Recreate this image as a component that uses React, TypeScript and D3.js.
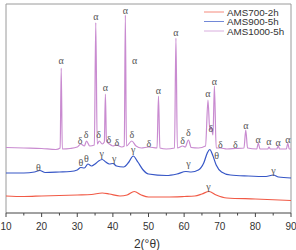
import React, { useEffect, useRef } from 'react';
import * as d3 from 'd3';

const W = 296;
const H = 250;

// x = 2θ (degrees), y = intensity (a.u.)
const red700: [number, number][] = [
  [10, 17], [15, 16.5], [20, 17], [25, 17.5], [30, 18], [34, 18.5], [37, 20], [39, 19],
  [42, 17], [44, 18], [46, 21.5], [48, 18], [50, 16], [55, 16], [60, 16.5], [63, 17],
  [65, 19], [67, 21.5], [69, 18], [72, 15], [80, 14], [90, 12.5],
];

const blue900: [number, number][] = [
  [10, 40], [15, 40], [18, 41], [19.5, 42.5], [21, 40.5], [25, 41], [28, 41.5], [30, 43],
  [31, 45.5], [32, 45], [33, 49], [34, 47], [35, 49], [36, 52], [37, 53.5], [38, 51],
  [39, 49], [40, 49.5], [41, 47], [43, 46], [44.5, 51], [45.7, 57], [47, 51], [48.5, 43],
  [50, 39], [55, 37.5], [58, 39], [60.5, 41.5], [62, 41], [64, 43], [65.5, 50], [66.5, 60],
  [67.2, 63.5], [68, 58], [69, 48], [70.5, 41], [73, 38], [78, 37], [83, 36.5], [85, 38],
  [86.5, 36], [90, 35],
];

const pink1000: [number, number][] = [
  [10, 65.5], [15, 65], [20, 64.5], [24, 63.5], [25.2, 65], [25.5, 145], [25.8, 64],
  [28, 64.5], [30, 66], [31, 69], [32, 67], [32.6, 72], [33.5, 67], [34.8, 68], [35.2, 190.5],
  [35.6, 69], [36.2, 72], [37, 69], [37.6, 71], [37.9, 119], [38.2, 72], [39, 69], [40, 67],
  [41, 68], [42.5, 66], [43.2, 67], [43.5, 198], [43.8, 67], [45.3, 72], [46.5, 67], [48, 65],
  [50, 66], [52.4, 65], [52.8, 117], [53.2, 65], [55, 64], [57.3, 65], [57.7, 175], [58.1, 65],
  [59.6, 67], [60.3, 66], [61.2, 73], [62, 65.5], [64, 65], [66, 67], [66.7, 113], [67.2, 83],
  [67.6, 86], [68.1, 78], [68.5, 127], [69, 65], [70.2, 65], [72, 64], [74.4, 64.5], [76.8, 65],
  [77.3, 83], [77.8, 65], [80.4, 64], [80.8, 70], [81.3, 64], [83.5, 64], [83.8, 66], [84.2, 64],
  [86, 64], [86.4, 67], [86.8, 64], [88.7, 64], [89.1, 70], [89.5, 64], [90, 64],
];

const seriesNames = ['AMS700-2h', 'AMS900-5h', 'AMS1000-5h'];
const seriesColors = ['#f15a46', '#3656c6', '#c98bd0'];

// phase labels: [2θ, intensity, glyph]
const phaseLabels: [number, number, string][] = [
  [25.5, 153, 'α'], [35.2, 197, 'α'], [37.9, 126, 'α'], [43.5, 203, 'α'], [46.1, 153, 'α'],
  [52.8, 123, 'α'], [57.7, 181, 'α'], [66.7, 120, 'α'], [68.5, 132, 'α'], [77.3, 88, 'α'],
  [80.8, 74, 'α'], [83.8, 72, 'α'], [86.4, 71, 'α'], [89.1, 74, 'α'],
  [30.8, 73, 'δ'], [32.5, 79, 'δ'], [36, 79, 'δ'], [38.9, 74, 'δ'], [41.1, 71, 'δ'],
  [45.3, 79, 'δ'], [50.1, 70, 'δ'], [59.6, 73, 'δ'], [61.2, 81, 'δ'], [67.5, 85, 'δ'],
  [70.2, 69, 'δ'], [74.4, 69, 'δ'],
  [19.1, 46, 'θ'], [31, 51, 'θ'], [32.6, 55, 'θ'], [69.1, 58, 'θ'],
  [36.9, 60, 'γ'], [40.4, 55, 'γ'], [45.7, 64, 'γ'], [61.2, 50, 'γ'], [85.1, 43, 'γ'],
  [66.8, 27, 'γ'],
];

const majorTicks = [10, 20, 30, 40, 50, 60, 70, 80, 90];
const minorTicks = [15, 25, 35, 45, 55, 65, 75, 85];

export default function App() {
  const ref = useRef<SVGSVGElement>(null);

  useEffect(() => {
    document.body.style.margin = '0';
    if (!ref.current) return;
    const svg = d3.select(ref.current);
    svg.selectAll('*').remove();

    const left = 6;
    const right = 291;
    const top = 4;
    const bottom = 213;

    const x = d3.scaleLinear().domain([10, 90]).range([left, right]);
    const y = d3.scaleLinear().domain([0, 209]).range([bottom, top]);

    // frame
    svg.append('path')
      .attr('d', `M${left},${bottom}V${top}H${right}V${bottom}`)
      .attr('fill', 'none')
      .attr('stroke', '#9a9a9a')
      .attr('stroke-width', 1);

    const line = d3.line<[number, number]>()
      .x((d) => x(d[0]))
      .y((d) => y(d[1]))
      .curve(d3.curveMonotoneX);

    [red700, blue900, pink1000].forEach((s, i) => {
      svg.append('path')
        .attr('d', line(s) ?? '')
        .attr('fill', 'none')
        .attr('stroke', seriesColors[i])
        .attr('stroke-width', 1.2)
        .attr('stroke-linejoin', 'round');
    });

    // phase labels
    phaseLabels.forEach(([tt, v, g]) => {
      svg.append('text')
        .attr('x', x(tt))
        .attr('y', y(v))
        .attr('text-anchor', 'middle')
        .attr('dominant-baseline', 'central')
        .attr('fill', '#555')
        .attr('font-size', '10px')
        .attr('font-family', 'Liberation Serif, serif')
        .text(g);
    });

    // bottom axis
    svg.append('line')
      .attr('x1', left).attr('x2', right)
      .attr('y1', bottom).attr('y2', bottom)
      .attr('stroke', '#444').attr('stroke-width', 1);
    majorTicks.forEach((t) => {
      svg.append('line')
        .attr('x1', x(t)).attr('x2', x(t))
        .attr('y1', bottom).attr('y2', bottom + 4)
        .attr('stroke', '#444');
      svg.append('text')
        .attr('x', x(t))
        .attr('y', bottom + 17)
        .attr('text-anchor', 'middle')
        .attr('fill', '#333')
        .attr('font-size', '10px')
        .attr('font-family', 'Liberation Sans, Arial, sans-serif')
        .text(t);
    });
    minorTicks.forEach((t) => {
      svg.append('line')
        .attr('x1', x(t)).attr('x2', x(t))
        .attr('y1', bottom).attr('y2', bottom + 2.5)
        .attr('stroke', '#444');
    });

    svg.append('text')
      .attr('x', 147)
      .attr('y', 248)
      .attr('text-anchor', 'middle')
      .attr('fill', '#333')
      .attr('font-size', '12px')
      .attr('font-family', 'Liberation Sans, Arial, sans-serif')
      .text('2(°θ)');

    // legend
    seriesNames.forEach((n, i) => {
      const ly = 12 + i * 9.5;
      svg.append('line')
        .attr('x1', 204).attr('x2', 224)
        .attr('y1', ly).attr('y2', ly)
        .attr('stroke', seriesColors[i])
        .attr('stroke-opacity', 0.7)
        .attr('stroke-width', 1);
      svg.append('text')
        .attr('x', 227)
        .attr('y', ly)
        .attr('dominant-baseline', 'central')
        .attr('fill', '#333')
        .attr('font-size', '9.8px')
        .attr('font-family', 'Liberation Sans, Arial, sans-serif')
        .text(n);
    });
  }, []);

  return (
    <svg
      ref={ref}
      width={W}
      height={H}
      style={{ position: 'absolute', left: 0, top: 0, display: 'block', background: '#fff' }}
    />
  );
}
